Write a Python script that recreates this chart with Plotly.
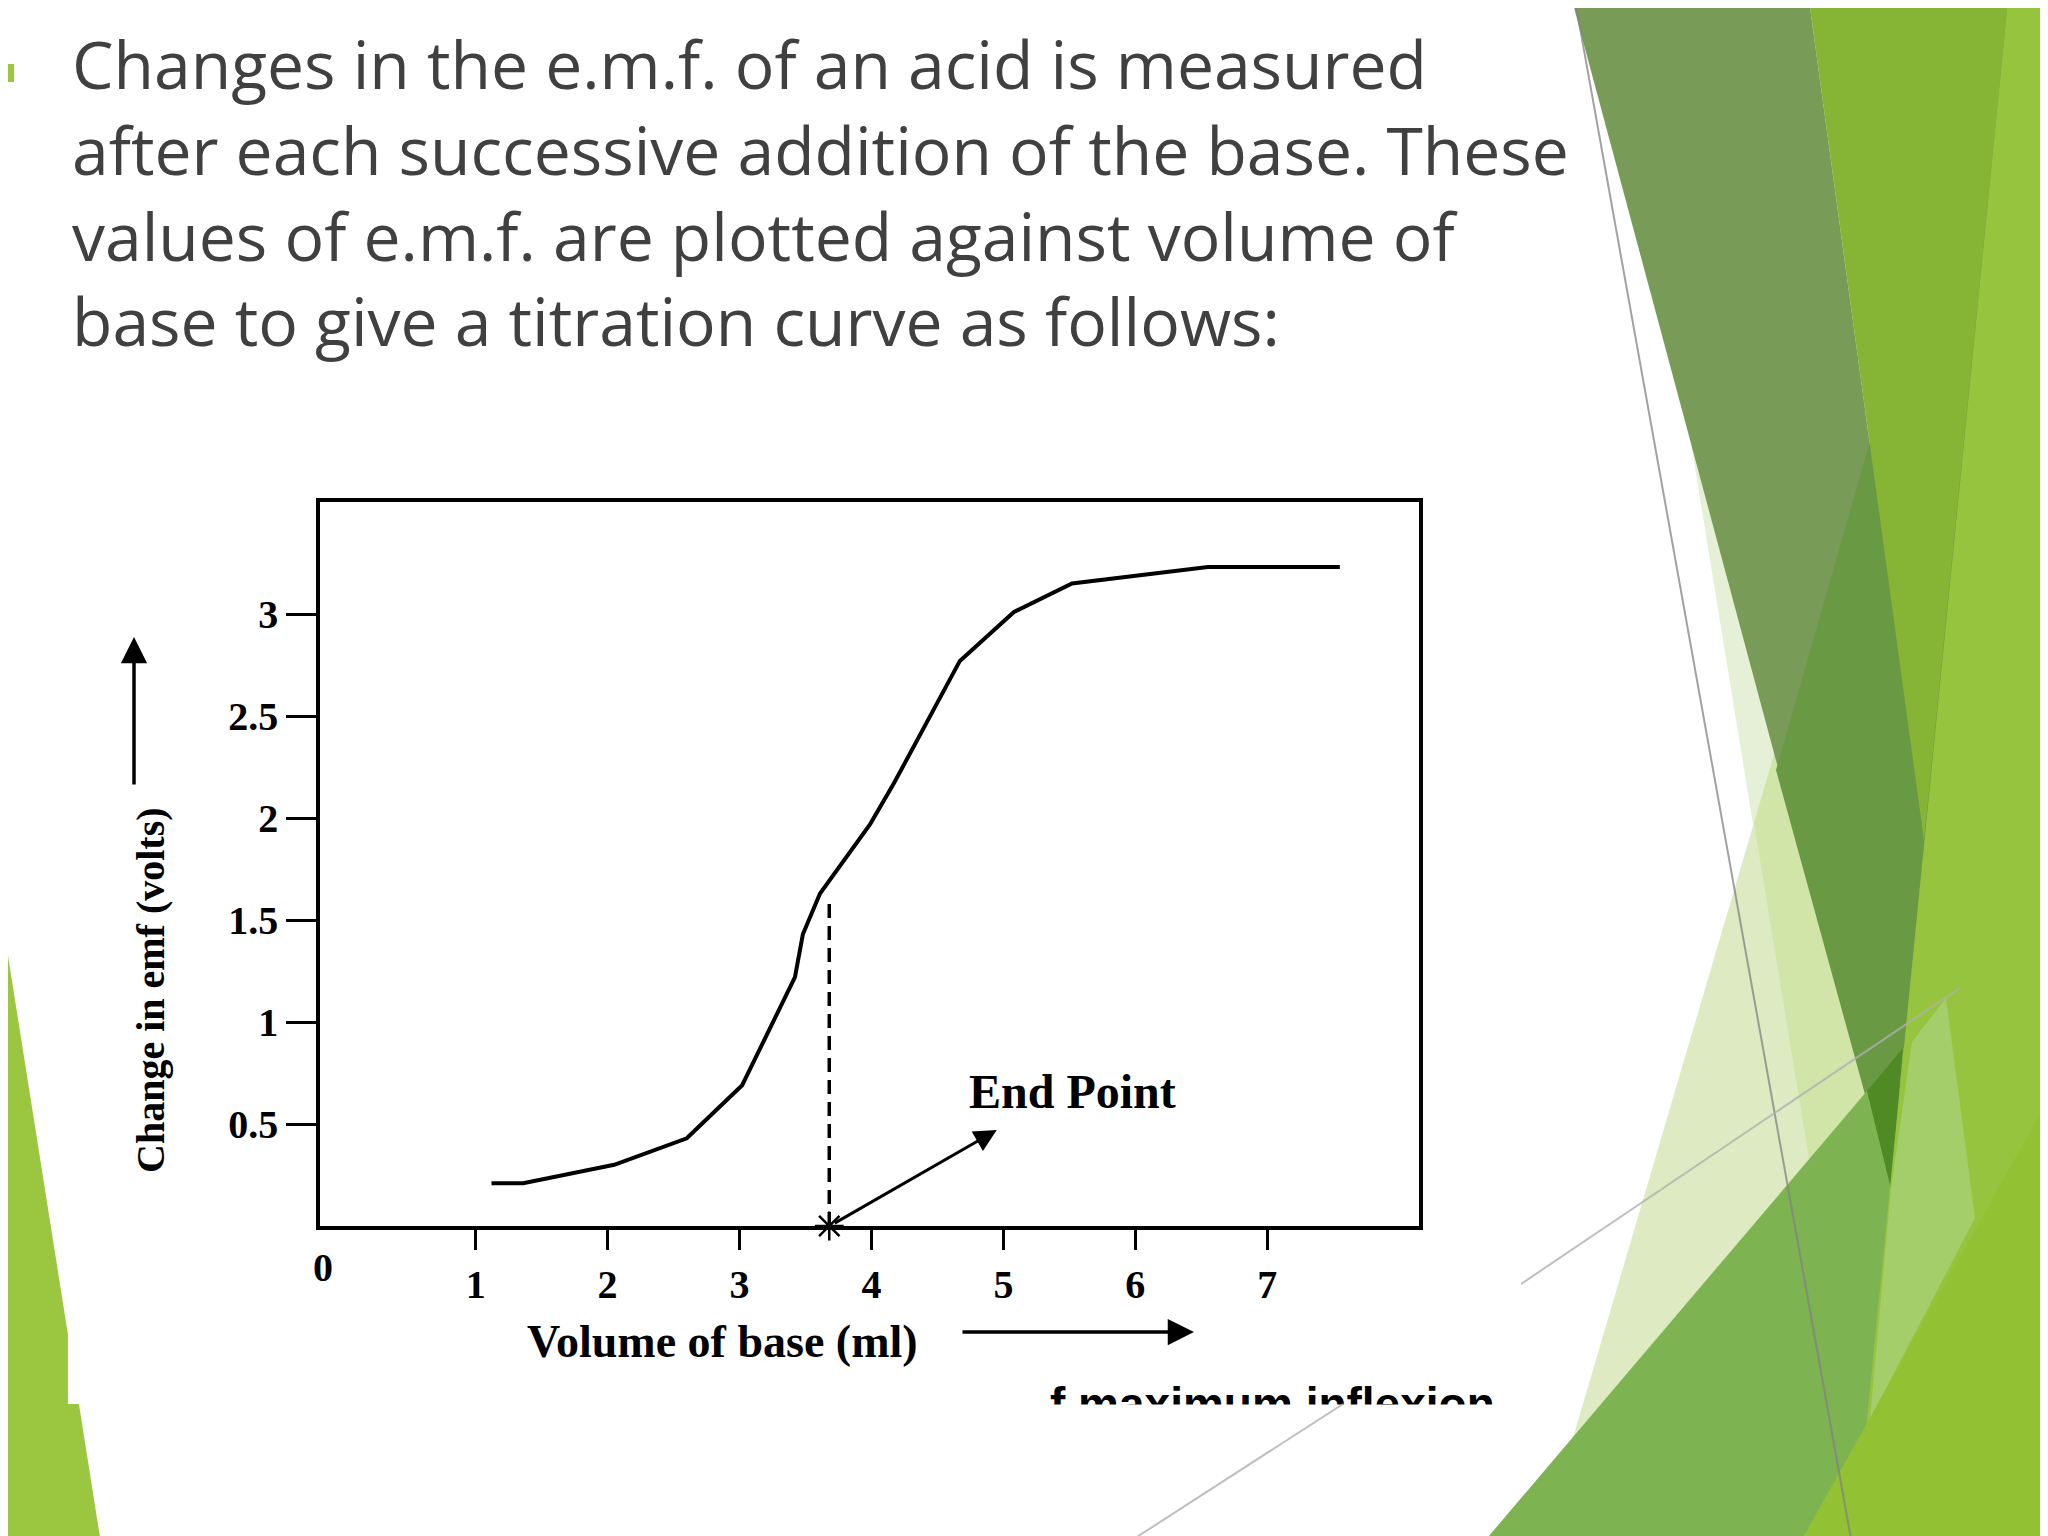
import plotly.graph_objects as go

# ---------------- data ----------------
volume_ml = [1.12, 1.36, 2.05, 2.60, 3.02, 3.42, 3.48, 3.61, 3.99, 4.17, 4.67, 5.08, 5.52, 6.55, 7.55]
emf_change = [0.21, 0.21, 0.30, 0.43, 0.69, 1.22, 1.43, 1.63, 1.97, 2.17, 2.77, 3.01, 3.15, 3.23, 3.23]
endpoint_volume = 3.68
endpoint_curve_emf = 1.58
x_tick_vals = [1, 2, 3, 4, 5, 6, 7]
x_tick_text = ["1", "2", "3", "4", "5", "6", "7"]
y_tick_vals = [0.5, 1, 1.5, 2, 2.5, 3]
y_tick_text = ["0.5", "1", "1.5", "2", "2.5", "3"]
slide_lines = [
    "Changes in the e.m.f. of an acid is measured",
    "after each successive addition of the base. These",
    "values of e.m.f. are plotted against volume of",
    "base to give a titration curve as follows:",
]

W, H = 2048, 1536
OFF = 8  # page body margin of the html page


def px(x):
    return (x - OFF) / W


def py(y):
    return 1 - (y - OFF) / H


def path(pts):
    return "M " + " L ".join(f"{px(x):.5f},{py(y):.5f}" for x, y in pts) + " Z"


shapes = []


def poly(pts, color):
    shapes.append(dict(type="path", xref="paper", yref="paper", path=path(pts),
                       fillcolor=color, line=dict(width=0), layer="below"))


def seg(p0, p1, color, width):
    shapes.append(dict(type="line", xref="paper", yref="paper",
                       x0=px(p0[0]), y0=py(p0[1]), x1=px(p1[0]), y1=py(p1[1]),
                       line=dict(color=color, width=width), layer="below"))


# ---------------- decorative theme shapes ----------------
poly([(1619, 0), (2060, 0), (2060, 1550), (1871, 1550)], "#E6F0D6")          # very light wedge
poly([(1996, 0), (2060, 0), (2060, 1550), (1540, 1550)], "#DDEAC2")          # light triangle
poly([(1996, 0), (2060, 0), (2060, 1550), (1873, 1550), (1754, 823)], "#D2E5A8")
poly([(1572, 0), (1809, 0), (1924, 840), (1891, 1189)], "#789C58")            # dark band
poly([(1776, 770), (1996, 0), (2060, 0), (2060, 1300), (1891, 1189)], "#6A9944")
poly([(1809, 0), (2008, 0), (1924, 840)], "#86B535")                          # bright green
poly([(1477, 1550), (1946, 998), (2060, 998), (2060, 1550)], "#7DB350")       # medium green
poly([(1867, 1091), (1903, 1048), (1891, 1189)], "#4F8A24")                   # darkest tip
poly([(2008, 0), (2060, 0), (2060, 1550), (1854, 1550)], "#97C43F")           # lighter right band
poly([(1891, 1189), (1912, 1042), (1946, 998), (1975, 1218), (1870, 1419)], "#A4CE69")
poly([(1796, 1550), (2060, 1078), (2060, 1550)], "#92C133")                   # bottom right
seg((1575, 0), (1853, 1550), "rgba(130,130,130,0.75)", 2)
seg((1343, 1404), (1960, 988), "rgba(175,175,175,0.8)", 2)
poly([(0, 905), (102, 1550), (0, 1550)], "#9BC63F")                           # left wedge
poly([(0, 64), (14, 64), (14, 82), (0, 82)], "#9BC63F")                      # bullet
# white box of the scanned figure
poly([(68, 430), (1521, 430), (1521, 1404), (68, 1404)], "#FFFFFF")

# ---------------- traces ----------------
fig = go.Figure()
fig.add_trace(go.Scatter(x=volume_ml, y=emf_change, mode="lines",
                         line=dict(color="black", width=4), hoverinfo="skip"))
fig.add_trace(go.Scatter(x=[endpoint_volume, endpoint_volume], y=[0, endpoint_curve_emf],
                         mode="lines", line=dict(color="black", width=3.5, dash="14px,8px"),
                         hoverinfo="skip"))
fig.add_trace(go.Scatter(x=[endpoint_volume], y=[0], mode="markers", cliponaxis=False,
                         marker=dict(symbol="asterisk-open", size=24, color="black",
                                     line=dict(color="black", width=2.5)),
                         hoverinfo="skip"))

serif = "Liberation Serif"
ann = []


def text_ann(text, x, y, size, family=serif, bold=True, **kw):
    d = dict(text=text, xref="paper", yref="paper", x=px(x), y=py(y), showarrow=False,
             xanchor=kw.pop("xanchor", "center"), yanchor=kw.pop("yanchor", "middle"),
             font=dict(family=family, size=size, color=kw.pop("color", "black"),
                       weight="bold" if bold else "normal"))
    d.update(kw)
    ann.append(d)


# slide text (one block, 4 lines)
text_ann("<br>".join(slide_lines), 70, 192, 66, family="Open Sans", bold=False,
         xanchor="left", align="left", color="#404040")
# end point arrow and label
ann.append(dict(text="", xref="x", yref="y", x=4.95, y=0.47, axref="x", ayref="y",
                ax=endpoint_volume + 0.03, ay=0.01, showarrow=True, arrowhead=2,
                arrowsize=1.5, arrowwidth=3, arrowcolor="black"))
ann.append(dict(text="End Point", xref="x", yref="y", x=5.52, y=0.66, showarrow=False,
                xanchor="center", yanchor="middle",
                font=dict(family=serif, size=48, color="black", weight="bold")))
# axis titles with arrows
text_ann("Volume of base (ml)", 722, 1341, 46)
ann.append(dict(text="", xref="paper", yref="paper", x=px(1194), y=py(1332), ax=-233, ay=0,
                showarrow=True, arrowhead=2, arrowsize=1.5, arrowwidth=3.5, arrowcolor="black"))
text_ann("Change in emf (volts)", 150, 990, 40, textangle=-90)
ann.append(dict(text="", xref="paper", yref="paper", x=px(134), y=py(637), ax=0, ay=149,
                showarrow=True, arrowhead=2, arrowsize=1.5, arrowwidth=3.5, arrowcolor="black"))
text_ann("0", 323, 1267, 40)
# partially visible caption cut by the scan edge
text_ann("f maximum inflexion", 1048, 1376, 46, family="Liberation Sans",
         xanchor="left", yanchor="top")
# white cover for the part of the caption outside the scan
ann.append(dict(text=" ", xref="paper", yref="paper", x=px(1030), y=py(1404), xanchor="left",
                yanchor="top", width=520, height=44, bgcolor="white", showarrow=False))
# the thin grey theme line running over that cover
ann.append(dict(text="", xref="paper", yref="paper", x=px(1343), y=py(1404), ax=-217, ay=146,
                showarrow=True, arrowhead=0, arrowwidth=2, standoff=0,
                arrowcolor="rgba(175,175,175,0.8)"))

fig.update_layout(
    width=W, height=H, autosize=False,
    margin=dict(l=0, r=0, t=0, b=0),
    paper_bgcolor="white", plot_bgcolor="rgba(0,0,0,0)",
    showlegend=False, shapes=shapes, annotations=ann,
    xaxis=dict(domain=[px(320), px(1419)], range=[-0.18, 8.15], tickvals=x_tick_vals,
               ticktext=x_tick_text, ticks="outside", ticklen=20, tickwidth=3, tickcolor="black",
               showline=True, linewidth=3.5, linecolor="black", mirror=True,
               showgrid=False, zeroline=False,
               tickfont=dict(family=serif, size=40, color="black", weight="bold")),
    yaxis=dict(domain=[py(1226), py(1226 - 3.55 * 204)], range=[0, 3.55], tickvals=y_tick_vals,
               ticktext=y_tick_text, ticks="outside", ticklen=30, tickwidth=3, tickcolor="black",
               showline=True, linewidth=3.5, linecolor="black", mirror=True,
               showgrid=False, zeroline=False,
               tickfont=dict(family=serif, size=40, color="black", weight="bold")),
)

fig.write_html("out.html")
